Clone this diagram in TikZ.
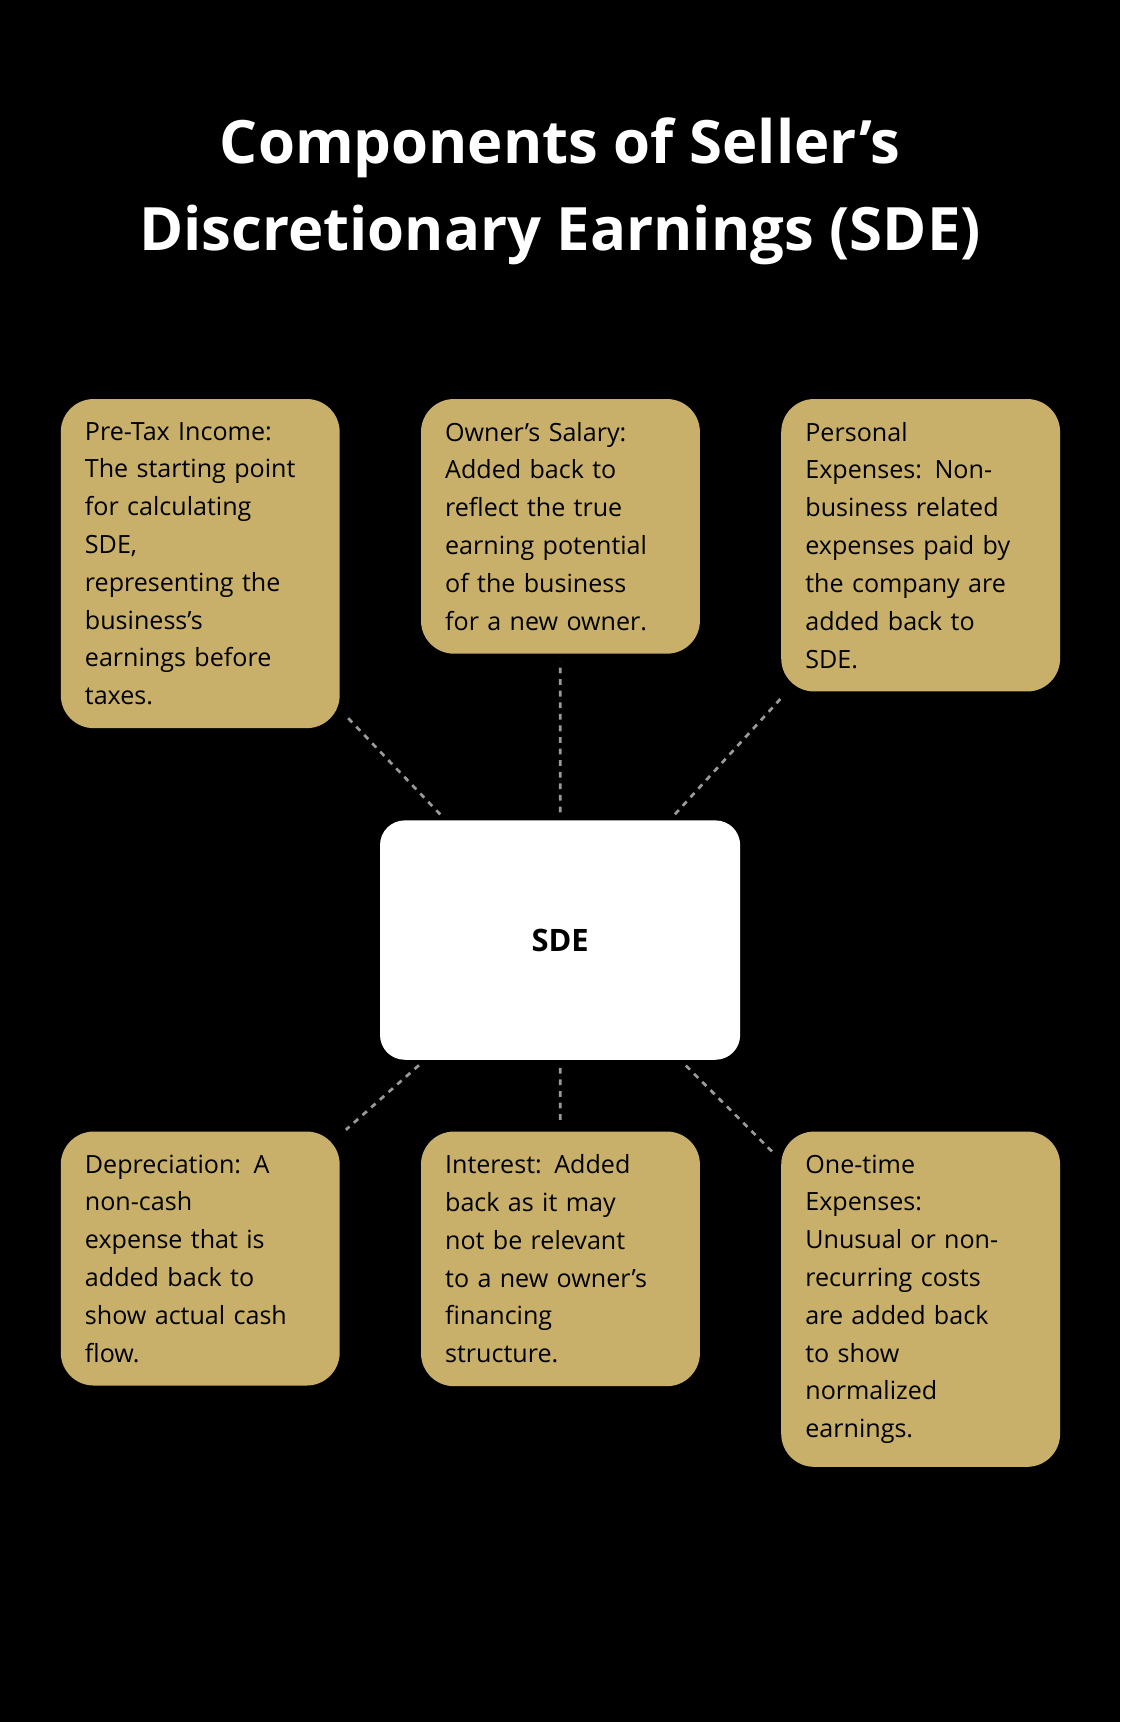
\documentclass[tikz,border=0pt]{standalone}
\usepackage{fontspec}
\setmainfont{Open Sans}
\usetikzlibrary{positioning}
\definecolor{sdegold}{HTML}{C8B06A}
\definecolor{sdeline}{HTML}{9A9A9A}
\tikzset{
  itembox/.style = {rectangle, rounded corners=0.6cm, fill=sdegold,
    anchor=north west, align=left, inner xsep=0.44cm, inner ysep=0.42cm,
    text width=4.2cm, font=\fontsize{13}{19.6}\selectfont, text=black},
  centerbox/.style = {rectangle, rounded corners=0.45cm, fill=white,
    minimum width=6.56cm, minimum height=4.36cm, font=\fontsize{16}{19}\selectfont\bfseries},
  link/.style = {draw=sdeline, dashed, line width=1.4pt, shorten <=4pt, shorten >=4pt}
}
\begin{document}
\begin{tikzpicture}[x=0.02cm,y=-0.02cm]
\fill[black] (0,0) rectangle (1020,1568);
\node[font=\fontsize{31}{45}\selectfont\bfseries, text=white, align=center] (title) at (510,174)
  {Components of Seller's\\Discretionary Earnings (SDE)};

\node[centerbox] (sde) at (510,856) {SDE};

% top row
\node[itembox] (pretax) at (55,363) {Pre-Tax Income:\\The starting point\\for calculating\\SDE,\\representing the\\business's\\earnings before\\taxes.};
\node[itembox] (salary) at (383,363) {Owner's Salary:\\Added back to\\reflect the true\\earning potential\\of the business\\for a new owner.};
\node[itembox] (personal) at (711,363) {Personal\\Expenses: Non-\\business related\\expenses paid by\\the company are\\added back to\\SDE.};
% bottom row
\node[itembox] (deprec) at (55,1030) {Depreciation: A\\non-cash\\expense that is\\added back to\\show actual cash\\flow.};
\node[itembox] (interest) at (383,1030) {Interest: Added\\back as it may\\not be relevant\\to a new owner's\\financing\\structure.};
\node[itembox] (onetime) at (711,1030) {One-time\\Expenses:\\Unusual or non-\\recurring costs\\are added back\\to show\\normalized\\earnings.};

\foreach \n in {pretax,salary,personal,deprec,interest,onetime}
  \draw[link] (sde) -- (\n);
\end{tikzpicture}
\end{document}
